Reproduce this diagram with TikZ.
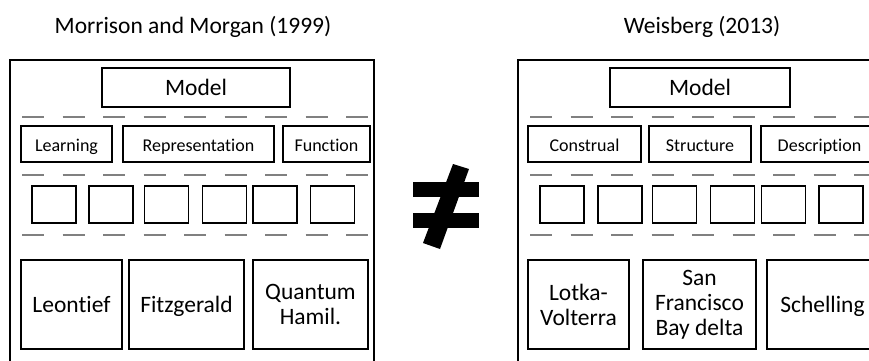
\documentclass[tikz,border=0pt]{standalone}
\usepackage{fontspec}
\setmainfont{Carlito}[Ligatures=NoCommon]
\begin{document}
\begin{tikzpicture}[x=1pt,y=-1pt,
  box/.style={draw=black,line width=1.4pt,inner sep=0pt,align=center},
  frame/.style={draw=black,line width=1.4pt,inner sep=0pt},
  big/.style={font=\fontsize{23.5}{25}\selectfont},
  one/.style={text height=15.8pt,text depth=0pt},
  mid/.style={font=\fontsize{18}{21}\selectfont,text height=14pt,text depth=0pt},
  sq/.style={box,minimum width=44pt,minimum height=37pt},
  sep/.style={draw=black!50,line width=1.5pt,dash pattern=on 22pt off 18.5pt},
  title/.style={anchor=base,font=\fontsize{23.5}{26}\selectfont}]
\useasboundingbox (0,0) rectangle (869,360);
\clip (0,0) rectangle (869,360);
\fill[white] (0,0) rectangle (869,360);

% column titles
\node[title] (tL) at (193,33) {Morrison and Morgan (1999)};
\node[title] (tR) at (702,33) {Weisberg (2013)};

% ---------- left panel ----------
\node[frame,minimum width=364pt,minimum height=320pt] (Lframe) at (192,220) {};
\node[box,big,one,minimum width=188pt,minimum height=39pt] (Lmodel) at (196,87.5) {Model};
\draw[sep] (22,117) -- (372,117);
\node[box,mid,minimum width=91pt,minimum height=36pt] (Llearn) at (66.5,144) {Learning};
\node[box,mid,minimum width=151pt,minimum height=36pt] (Lrep) at (198.5,144) {Representation};
\node[box,mid,minimum width=87pt,minimum height=36pt] (Lfun) at (326.5,144) {Function};
\draw[sep] (22,175) -- (372,175);
\node[sq] (Ls1) at (54,204.5) {};
\node[sq] (Ls2) at (111,204.5) {};
\node[sq] (Ls3) at (166.5,204.5) {};
\node[sq] (Ls4) at (224.5,204.5) {};
\node[sq] (Ls5) at (275,204.5) {};
\node[sq] (Ls6) at (332.5,204.5) {};
\draw[sep] (22,235) -- (372,235);
\node[box,big,one,minimum width=101pt,minimum height=89pt] (Lb1) at (71.5,304.5) {Leontief};
\node[box,big,one,minimum width=115pt,minimum height=89pt] (Lb2) at (186.5,304.5) {Fitzgerald};
\node[box,big,minimum width=115pt,minimum height=89pt] (Lb3) at (310.5,304.5) {Quantum\\Hamil.};

% ---------- not-equal sign ----------
\fill[black] (413,182) rectangle (479,197);
\fill[black] (413,213) rectangle (479,228);
\fill[black] (453,164) -- (469,169) -- (440,249) -- (423,243) -- cycle;

% ---------- right panel ----------
\node[frame,minimum width=364pt,minimum height=320pt] (Rframe) at (700,220) {};
\node[box,big,one,minimum width=180pt,minimum height=39pt] (Rmodel) at (700,87.5) {Model};
\draw[sep] (530,117) -- (880,117);
\node[box,mid,minimum width=113pt,minimum height=36pt] (Rcon) at (584.5,144) {Construal};
\node[box,mid,minimum width=102pt,minimum height=36pt] (Rstr) at (700,144) {Structure};
\node[box,mid,minimum width=117pt,minimum height=36pt] (Rdes) at (819.5,144) {Description};
\draw[sep] (530,175) -- (880,175);
\node[sq] (Rs1) at (562,204.5) {};
\node[sq] (Rs2) at (620,204.5) {};
\node[sq] (Rs3) at (674.5,204.5) {};
\node[sq] (Rs4) at (732.5,204.5) {};
\node[sq] (Rs5) at (783.5,204.5) {};
\node[sq] (Rs6) at (841,204.5) {};
\draw[sep] (530,235) -- (880,235);
\node[box,big,minimum width=101pt,minimum height=89pt] (Rb1) at (578.5,304.5) {Lotka-\\Volterra};
\node[box,big,minimum width=113pt,minimum height=89pt] (Rb2) at (699.5,304.5) {San\\Francisco\\Bay delta};
\node[box,big,one,minimum width=111pt,minimum height=89pt] (Rb3) at (822.5,304.5) {Schelling};
\end{tikzpicture}
\end{document}
